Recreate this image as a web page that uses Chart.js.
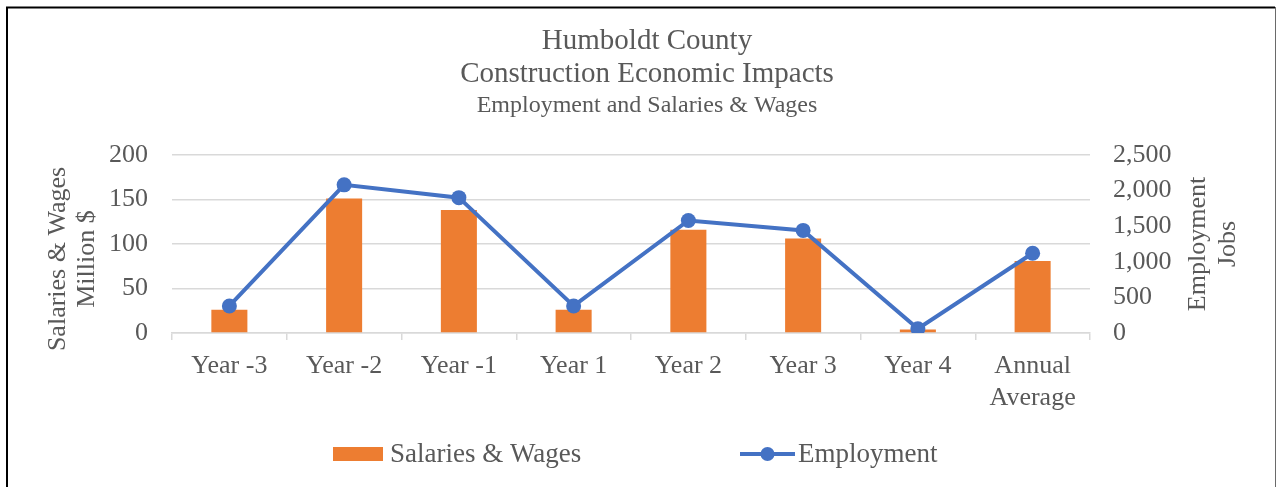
<!DOCTYPE html>
<html>
<head>
<meta charset="utf-8">
<script src="https://cdn.jsdelivr.net/npm/chart.js@4/dist/chart.umd.min.js"></script>
<style>
  html, body { margin: 0; padding: 0; background: #fff; }
  #wrap { position: relative; width: 1276px; height: 487px; }
  canvas { display: block; }
</style>
</head>
<body>
<div id="wrap"><canvas id="c" width="1276" height="487"></canvas></div>
<script>
const categories = ["Year -3", "Year -2", "Year -1", "Year 1", "Year 2", "Year 3", "Year 4", ["Annual", "Average"]];
const salariesWages = [26, 151, 138, 26, 116, 106, 4, 81];
const employment = [380, 2080, 1900, 380, 1580, 1440, 60, 1120];
const leftTicks = [0, 50, 100, 150, 200];
const rightTicks = [0, 500, 1000, 1500, 2000, 2500];
const titleLines = ["Humboldt County", "Construction Economic Impacts"];
const subtitleText = "Employment and Salaries & Wages";
const leftAxisTitle = ["Salaries & Wages", "Million $"];
const rightAxisTitle = ["Employment", "Jobs"];
const seriesNames = ["Salaries & Wages", "Employment"];

const SERIF = "'Liberation Serif', 'Times New Roman', serif";
const TEXT = "#595959";
const GRID = "#d9d9d9";
const ORANGE = "#ED7D31";
const BLUE = "#4472C4";

const decor = {
  id: "decor",
  beforeDraw(chart) {
    const ctx = chart.ctx;
    ctx.save();
    ctx.fillStyle = "#fff";
    ctx.fillRect(0, 0, chart.width, chart.height);
    ctx.restore();
  },
  afterDraw(chart) {
    const ctx = chart.ctx;
    ctx.save();
    // frame
    ctx.strokeStyle = "#000";
    ctx.lineWidth = 2;
    ctx.beginPath();
    ctx.moveTo(7, 600); ctx.lineTo(7, 7.5); ctx.lineTo(1275, 7.5);
    ctx.stroke();
    ctx.strokeStyle = "#6a6a6a";
    ctx.lineWidth = 1;
    ctx.beginPath();
    ctx.moveTo(1275.5, 7); ctx.lineTo(1275.5, 600);
    ctx.stroke();

    // axis titles
    ctx.fillStyle = TEXT;
    ctx.font = "26px " + SERIF;
    ctx.textAlign = "center";
    ctx.textBaseline = "middle";
    const drawRot = (lines, xs, y) => {
      lines.forEach((t, i) => {
        ctx.save();
        ctx.translate(xs[i], y);
        ctx.rotate(-Math.PI / 2);
        ctx.fillText(t, 0, 0);
        ctx.restore();
      });
    };
    drawRot(leftAxisTitle, [58, 87], 259);
    drawRot(rightAxisTitle, [1198, 1228], 244);

    // legend
    const ly = 455;
    ctx.font = "27px " + SERIF;
    ctx.fillStyle = ORANGE;
    ctx.fillRect(333, 447, 50, 14);
    ctx.fillStyle = TEXT;
    ctx.textAlign = "left";
    ctx.fillText(seriesNames[0], 390, ly);
    ctx.strokeStyle = BLUE;
    ctx.lineWidth = 4;
    ctx.beginPath();
    ctx.moveTo(740, 454); ctx.lineTo(795, 454);
    ctx.stroke();
    ctx.fillStyle = BLUE;
    ctx.beginPath();
    ctx.arc(767.5, 454, 7, 0, Math.PI * 2);
    ctx.fill();
    ctx.fillStyle = TEXT;
    ctx.fillText(seriesNames[1], 798, ly);
    ctx.restore();
  }
};

new Chart(document.getElementById("c"), {
  data: {
    labels: categories,
    datasets: [
      {
        type: "line",
        label: seriesNames[1],
        data: employment,
        yAxisID: "y1",
        borderColor: BLUE,
        backgroundColor: BLUE,
        borderWidth: 4,
        pointRadius: 7.5,
        pointBackgroundColor: BLUE,
        pointBorderWidth: 0,
        tension: 0,
        order: 0
      },
      {
        type: "bar",
        label: seriesNames[0],
        data: salariesWages,
        yAxisID: "y",
        backgroundColor: ORANGE,
        borderWidth: 0,
        categoryPercentage: 1,
        barPercentage: 0.314,
        order: 1
      }
    ]
  },
  options: {
    responsive: false,
    animation: false,
    devicePixelRatio: 1,
    layout: { padding: { top: 0, left: 18, right: 0, bottom: 0 } },
    plugins: {
      legend: { display: false },
      tooltip: { enabled: false },
      title: {
        display: true,
        text: titleLines,
        color: TEXT,
        font: { family: SERIF, size: 29, weight: "normal", lineHeight: 1.14 },
        padding: { top: 25, bottom: 0 }
      },
      subtitle: {
        display: true,
        text: subtitleText,
        color: TEXT,
        font: { family: SERIF, size: 24, weight: "normal", lineHeight: 1.2 },
        padding: { top: 0, bottom: 35 }
      }
    },
    scales: {
      x: {
        offset: true,
        grid: { display: true, offset: true, drawOnChartArea: false, drawTicks: true, tickLength: 7, color: GRID, lineWidth: 1.5 },
        border: { display: true, color: GRID, width: 1.5 },
        ticks: { color: TEXT, font: { family: SERIF, size: 26, lineHeight: 1.2 }, padding: 11, maxRotation: 0, autoSkip: false },
        afterFit(s) { s.height = 154; }
      },
      y: {
        position: "left",
        min: 0, max: 200,
        afterBuildTicks(s) { s.ticks = leftTicks.map(v => ({ value: v })); },
        grid: { color: GRID, lineWidth: 1.5, drawTicks: false },
        border: { display: false },
        ticks: { color: TEXT, font: { family: SERIF, size: 26 }, padding: 24 },
        afterFit(s) { s.width = 154; }
      },
      y1: {
        position: "right",
        min: 0, max: 2500,
        afterBuildTicks(s) { s.ticks = rightTicks.map(v => ({ value: v })); },
        grid: { display: false, drawOnChartArea: false, drawTicks: false },
        border: { display: false },
        ticks: { color: TEXT, font: { family: SERIF, size: 26 }, padding: 23,
          callback: v => v.toLocaleString("en-US") },
        afterFit(s) { s.width = 186; }
      }
    }
  },
  plugins: [decor]
});
</script>
</body>
</html>
